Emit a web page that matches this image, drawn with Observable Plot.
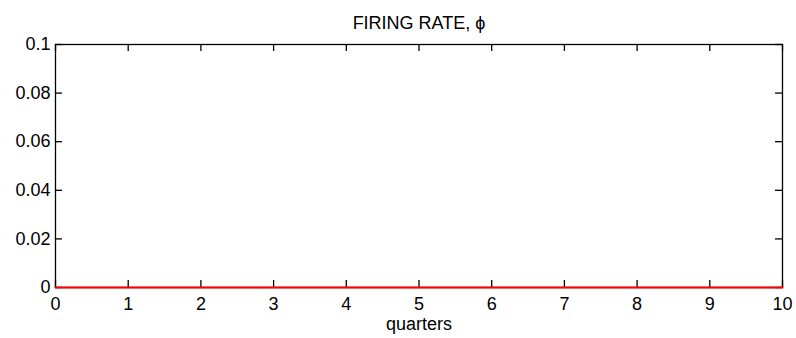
<!DOCTYPE html>
<html><head><meta charset="utf-8">
<script src="https://cdn.jsdelivr.net/npm/d3@7"></script>
<script src="https://cdn.jsdelivr.net/npm/@observablehq/plot@0.6"></script>
<style>body{margin:0;background:#fff}</style>
</head><body><div id="chart"></div>
<script>
const title = "FIRING RATE, ϕ";
const xLabel = "quarters";
const quarters = [0, 1, 2, 3, 4, 5, 6, 7, 8, 9, 10];
const firingRate = [0, 0, 0, 0, 0, 0, 0, 0, 0, 0, 0];
const xTicks = [0, 1, 2, 3, 4, 5, 6, 7, 8, 9, 10];
const yTicks = [0, 0.02, 0.04, 0.06, 0.08, 0.1];
const data = quarters.map((q, i) => ({q, v: firingRate[i]}));

const W = 796, H = 338, mT = 44, mB = 51, mL = 55, mR = 14;
const pw = W - mL - mR, ph = H - mT - mB, tl = 7;
const font = "'Liberation Sans', Arial, Helvetica, sans-serif";

const chart = Plot.plot({
  width: W, height: H,
  marginTop: mT, marginBottom: mB, marginLeft: mL, marginRight: mR,
  style: {fontFamily: font, fontSize: "18px", background: "#fff", color: "#000"},
  x: {domain: [0, 10]},
  y: {domain: [0, 0.1]},
  marks: [
    Plot.axisX({ticks: xTicks, tickSize: 0, tickPadding: 10, tickFormat: d => String(d), label: null, fill: "#000"}),
    Plot.axisY({ticks: yTicks, tickSize: 0, tickPadding: 5, tickFormat: d => String(d), label: null, fill: "#000"}),
    Plot.tickX(xTicks, {x: d => d, insetTop: ph - tl, stroke: "#000", strokeWidth: 1.3}),
    Plot.tickX(xTicks, {x: d => d, insetBottom: ph - tl, stroke: "#000", strokeWidth: 1.3}),
    Plot.tickY(yTicks, {y: d => d, insetRight: pw - tl, stroke: "#000", strokeWidth: 1.3}),
    Plot.tickY(yTicks, {y: d => d, insetLeft: pw - tl, stroke: "#000", strokeWidth: 1.3}),
    Plot.frame({stroke: "#000", strokeWidth: 1.3}),
    Plot.lineY(data, {x: "q", y: "v", stroke: "#ff0000", strokeWidth: 2}),
    Plot.text([title], {frameAnchor: "top", dy: -28, fill: "#000", fontSize: 18}),
    Plot.text([xLabel], {frameAnchor: "bottom", dy: 42, fill: "#000", fontSize: 18})
  ]
});
document.getElementById("chart").appendChild(chart);
</script>
</body></html>
